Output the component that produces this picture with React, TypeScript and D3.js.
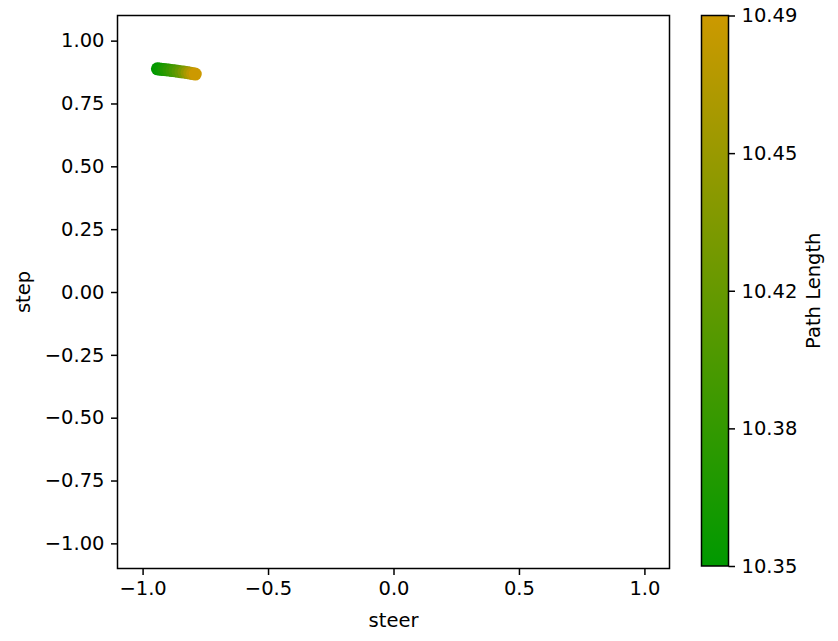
import React, { useEffect, useRef } from 'react'
import * as d3 from 'd3'

// points (steer, step) coloured by path length
const steer = [-0.941, -0.933, -0.925, -0.916, -0.906, -0.895, -0.883, -0.871, -0.859, -0.847, -0.835, -0.823, -0.812, -0.801, -0.790]
const step = [0.888, 0.887, 0.886, 0.885, 0.884, 0.883, 0.881, 0.880, 0.878, 0.876, 0.875, 0.873, 0.871, 0.869, 0.867]
const pathLength = [10.346, 10.350, 10.355, 10.361, 10.368, 10.376, 10.385, 10.394, 10.404, 10.416, 10.430, 10.446, 10.461, 10.474, 10.486]

const xTicks = [-1.0, -0.5, 0.0, 0.5, 1.0]
const yTicks = [-1.0, -0.75, -0.5, -0.25, 0.0, 0.25, 0.5, 0.75, 1.0]
const cbTicks = [10.346, 10.381, 10.416, 10.451, 10.486]

const App = () => {
  const svgRef = useRef<SVGSVGElement>(null)

  useEffect(() => {
    document.body.style.margin = '0'
    const width = 838
    const height = 641
    const plot = { left: 117.5, right: 669.5, top: 15.5, bottom: 568.5 }
    const cb = { left: 701.5, right: 728.5, top: 15.5, bottom: 566 }
    const font = 'DejaVu Sans, sans-serif'
    const fs = 19.5
    const minus = (s: string) => s.replace('-', '\u2212')

    const svg = d3.select(svgRef.current).attr('width', width).attr('height', height)
    svg.selectAll('*').remove()

    const x = d3.scaleLinear().domain([-1.1, 1.1]).range([plot.left, plot.right])
    const y = d3.scaleLinear().domain([-1.1, 1.1]).range([plot.bottom, plot.top])
    const cmin = cbTicks[0]
    const cmax = cbTicks[cbTicks.length - 1]
    const color = d3.scaleLinear<string>().domain([cmin, cmax]).range(['#009900', '#cc9900'])

    svg.append('rect').attr('width', width).attr('height', height).attr('fill', 'white')

    // points
    const data = steer.map((s, i) => ({ x: s, y: step[i], c: pathLength[i] }))
    svg.append('g')
      .selectAll('circle')
      .data(data)
      .join('circle')
      .attr('cx', (d) => x(d.x))
      .attr('cy', (d) => y(d.y))
      .attr('r', 6.5)
      .attr('fill', (d) => color(d.c))

    // frame
    svg.append('rect')
      .attr('x', plot.left).attr('y', plot.top)
      .attr('width', plot.right - plot.left).attr('height', plot.bottom - plot.top)
      .attr('fill', 'none').attr('stroke', 'black').attr('stroke-width', 1.5)

    const styleAxis = (g: any) => {
      g.select('.domain').remove()
      g.selectAll('line').attr('stroke', 'black').attr('stroke-width', 1.5)
      g.selectAll('text').attr('font-family', font).attr('font-size', fs).attr('fill', 'black')
    }

    svg.append('g')
      .attr('transform', `translate(0, ${plot.bottom})`)
      .call(d3.axisBottom(x).tickValues(xTicks).tickSize(6.5).tickPadding(6.5).tickFormat((d) => minus(d3.format('.1f')(d as number))))
      .call(styleAxis)

    svg.append('g')
      .attr('transform', `translate(${plot.left}, 0)`)
      .call(d3.axisLeft(y).tickValues(yTicks).tickSize(6.5).tickPadding(6.5).tickFormat((d) => minus(d3.format('.2f')(d as number))))
      .call(styleAxis)

    svg.append('text')
      .attr('x', (plot.left + plot.right) / 2).attr('y', 627)
      .attr('text-anchor', 'middle').attr('font-family', font).attr('font-size', fs)
      .text('steer')

    svg.append('text')
      .attr('transform', `translate(30, ${(plot.top + plot.bottom) / 2}) rotate(-90)`)
      .attr('text-anchor', 'middle').attr('font-family', font).attr('font-size', fs)
      .text('step')

    // colorbar
    const grad = svg.append('defs').append('linearGradient')
      .attr('id', 'cbgrad').attr('x1', 0).attr('y1', 1).attr('x2', 0).attr('y2', 0)
    grad.append('stop').attr('offset', '0%').attr('stop-color', color(cmin))
    grad.append('stop').attr('offset', '100%').attr('stop-color', color(cmax))

    svg.append('rect')
      .attr('x', cb.left).attr('y', cb.top)
      .attr('width', cb.right - cb.left).attr('height', cb.bottom - cb.top)
      .attr('fill', 'url(#cbgrad)').attr('stroke', 'black').attr('stroke-width', 1.5)

    const cy = d3.scaleLinear().domain([cmin, cmax]).range([cb.bottom, cb.top])
    svg.append('g')
      .attr('transform', `translate(${cb.right}, 0)`)
      .call(d3.axisRight(cy).tickValues(cbTicks).tickSize(6.5).tickPadding(6.5).tickFormat((d) => d3.format('.2f')(d as number)))
      .call(styleAxis)

    svg.append('text')
      .attr('transform', `translate(820, ${(cb.top + cb.bottom) / 2}) rotate(-90)`)
      .attr('text-anchor', 'middle').attr('font-family', font).attr('font-size', fs)
      .text('Path Length')
  }, [])

  return <svg ref={svgRef}></svg>
}

export default App
